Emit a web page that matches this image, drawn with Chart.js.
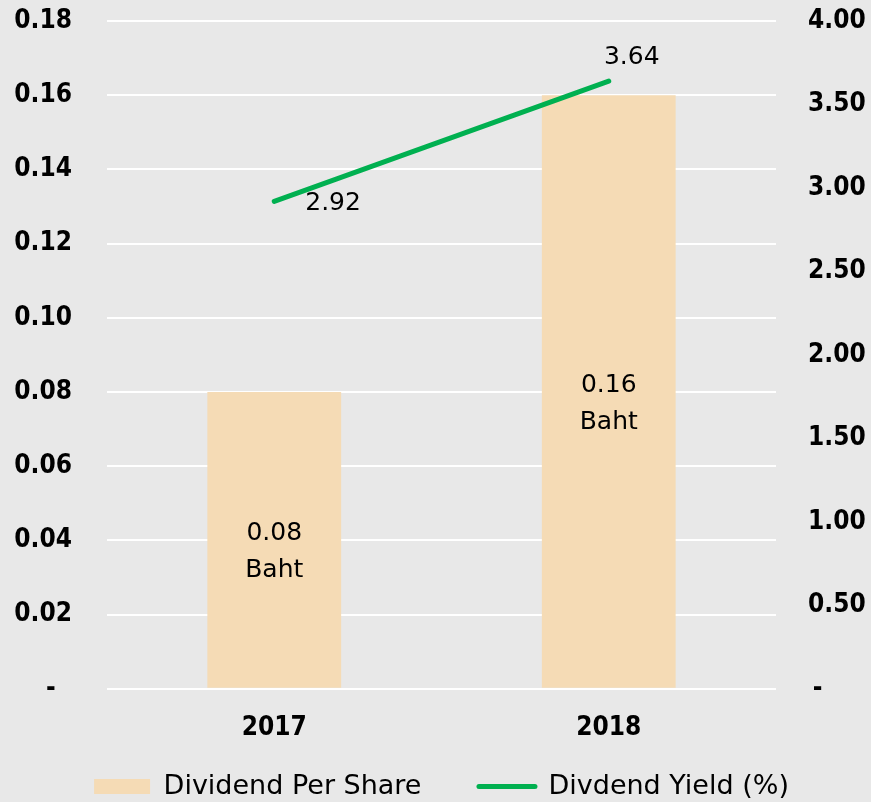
<!DOCTYPE html>
<html>
<head>
<meta charset="utf-8">
<script src="https://cdn.jsdelivr.net/npm/chart.js@4.4.1/dist/chart.umd.min.js"></script>
<style>
  html, body { margin: 0; padding: 0; background: #e8e8e8; }
  #wrap { width: 871px; height: 802px; position: relative; }
</style>
</head>
<body>
<div id="wrap"><canvas id="c" width="871" height="802"></canvas></div>
<script>
const categories = ['2017', '2018'];
const dividendPerShare = [0.08, 0.16];
const dividendYield = [2.92, 3.64];
const barLabels = [['0.08', 'Baht'], ['0.16', 'Baht']];
const yieldLabels = ['2.92', '3.64'];
const leftTicksMax = 0.18;
const rightTicksMax = 4.0;

const BOLD = "'DejaVu Sans Condensed', 'DejaVu Sans', sans-serif";
const REG = "'DejaVu Sans', sans-serif";

const labelPlugin = {
  id: 'labels',
  afterDatasetsDraw(chart) {
    const ctx = chart.ctx;
    ctx.save();
    ctx.fillStyle = '#000';
    ctx.font = '25px ' + REG;
    ctx.textAlign = 'center';
    ctx.textBaseline = 'middle';
    const barMeta = chart.getDatasetMeta(0);
    barMeta.data.forEach((el, i) => {
      const cy = (el.y + el.base) / 2 + 12;
      const lines = barLabels[i];
      const lh = 37;
      lines.forEach((t, j) => {
        ctx.fillText(t, el.x, cy + (j - (lines.length - 1) / 2) * lh);
      });
    });
    const lineMeta = chart.getDatasetMeta(1);
    lineMeta.data.forEach((el, i) => {
      if (i === 0) {
        ctx.textAlign = 'left';
        ctx.fillText(yieldLabels[i], el.x + 31, el.y + 2);
      } else {
        ctx.textAlign = 'center';
        ctx.fillText(yieldLabels[i], el.x + 23, el.y - 24);
      }
    });
    ctx.restore();
  }
};

const bgPlugin = {
  id: 'bg',
  beforeDraw(chart) {
    const ctx = chart.ctx;
    ctx.save();
    ctx.fillStyle = '#e8e8e8';
    ctx.fillRect(0, 0, chart.width, chart.height);
    ctx.restore();
  }
};

function fitY(s) {
  s.width = 95;
  s.paddingTop = 0;
  s.paddingBottom = 0;
}

new Chart(document.getElementById('c'), {
  data: {
    labels: categories,
    datasets: [
      {
        type: 'bar',
        label: 'Dividend Per Share',
        data: dividendPerShare,
        backgroundColor: '#f5dbb5',
        yAxisID: 'y',
        barPercentage: 0.8,
        categoryPercentage: 0.5,
        order: 2
      },
      {
        type: 'line',
        label: 'Divdend Yield (%)',
        data: dividendYield,
        borderColor: '#00b050',
        backgroundColor: '#00b050',
        borderWidth: 5,
        borderCapStyle: 'round',
        pointRadius: 0,
        pointHoverRadius: 0,
        yAxisID: 'y1',
        order: 1
      }
    ]
  },
  options: {
    responsive: false,
    animation: false,
    events: [],
    layout: { padding: { top: 21, right: 0, left: 12, bottom: -8 } },
    plugins: {
      tooltip: { enabled: false },
      legend: {
        position: 'bottom',
        labels: {
          usePointStyle: true,
          pointStyleWidth: 56,
          boxHeight: 15,
          padding: 6,
          color: '#000',
          font: { family: REG, size: 27 },
          generateLabels(chart) {
            return [
              { text: 'Dividend Per Share      ', fillStyle: '#f5dbb5', strokeStyle: '#f5dbb5', lineWidth: 0, pointStyle: 'rect', datasetIndex: 0, fontColor: '#000' },
              { text: 'Divdend Yield (%)', fillStyle: '#00b050', strokeStyle: '#00b050', lineWidth: 5, lineCap: 'round', pointStyle: 'line', datasetIndex: 1, fontColor: '#000' }
            ];
          }
        }
      }
    },
    scales: {
      x: {
        grid: { display: false },
        border: { display: false },
        afterFit: s => { s.height += 7; },
        ticks: { color: '#000', font: { family: BOLD, size: 26, weight: 'bold' }, padding: 16 }
      },
      y: {
        position: 'left',
        min: 0,
        max: leftTicksMax,
        border: { display: false },
        grid: { color: '#ffffff', lineWidth: 2, drawTicks: false },
        afterFit: fitY,
        ticks: {
          stepSize: 0.02,
          padding: 35,
          color: '#000',
          font: { family: BOLD, size: 26, weight: 'bold' },
          callback: v => (Math.abs(v) < 1e-9 ? '-\u2007' : Number(v).toFixed(2))
        }
      },
      y1: {
        position: 'right',
        min: 0,
        max: rightTicksMax,
        border: { display: false },
        grid: { display: false, drawTicks: false },
        afterFit: fitY,
        ticks: {
          stepSize: 0.5,
          padding: 32,
          color: '#000',
          font: { family: BOLD, size: 26, weight: 'bold' },
          callback: v => (Math.abs(v) < 1e-9 ? '\u2009-' : Number(v).toFixed(2))
        }
      }
    }
  },
  plugins: [bgPlugin, labelPlugin]
});
</script>
</body>
</html>
